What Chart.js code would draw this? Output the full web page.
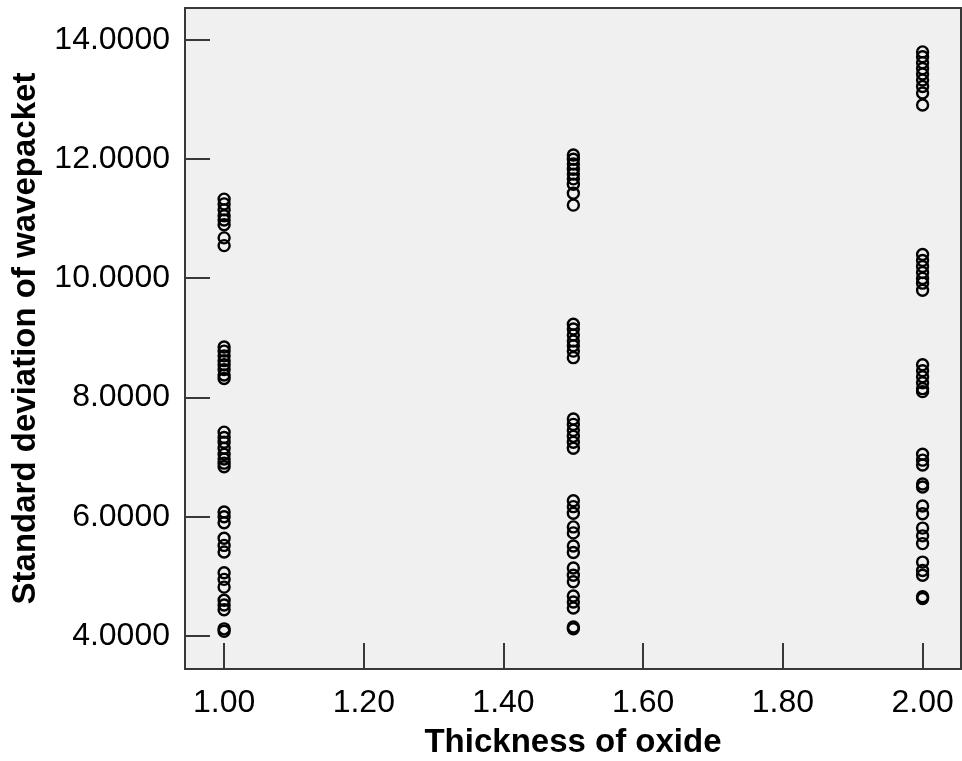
<!DOCTYPE html>
<html>
<head>
<meta charset="utf-8">
<script src="https://cdn.jsdelivr.net/npm/chart.js@4.4.1/dist/chart.umd.min.js"></script>
<style>
  html, body { margin: 0; padding: 0; background: #ffffff; }
  #wrap { width: 962px; height: 761px; }
</style>
</head>
<body>
<div id="wrap"><canvas id="chart" width="962" height="761"></canvas></div>
<script>
'use strict';
// thickness groups and the standard deviation read for each
var thickness = [1.00, 1.50, 2.00];
var sdThin = [
  11.33, 11.25, 11.15, 11.05, 10.98, 10.90, 10.68, 10.55,
  8.85, 8.78, 8.70, 8.62, 8.55, 8.47, 8.38, 8.32,
  7.42, 7.33, 7.25, 7.15, 7.05, 6.97, 6.90, 6.84,
  6.08, 6.00, 5.90,
  5.64, 5.52, 5.41,
  5.06, 4.95, 4.82,
  4.60, 4.52, 4.44,
  4.12, 4.08
];
var sdMid = [
  12.07, 12.00, 11.92, 11.83, 11.75, 11.67, 11.58, 11.43, 11.23,
  9.23, 9.15, 9.05, 8.95, 8.87, 8.78, 8.67,
  7.64, 7.55, 7.45, 7.35, 7.25, 7.15,
  6.27, 6.17, 6.06,
  5.83, 5.73,
  5.51, 5.40,
  5.14, 5.02, 4.91,
  4.67, 4.57, 4.47,
  4.15, 4.12
];
var sdThick = [
  13.80, 13.72, 13.62, 13.52, 13.43, 13.33, 13.22, 13.11, 12.91,
  10.40, 10.30, 10.20, 10.10, 10.00, 9.92, 9.80,
  8.55, 8.45, 8.35, 8.25, 8.15, 8.10,
  7.05, 6.95, 6.87,
  6.55, 6.50,
  6.18, 6.05,
  5.81, 5.68, 5.55,
  5.24, 5.10, 5.02,
  4.66, 4.63
];
var xTickValues = [1.0, 1.2, 1.4, 1.6, 1.8, 2.0];
var yTickValues = [4, 6, 8, 10, 12, 14];

var groups = [sdThin, sdMid, sdThick];
var points = [];
for (var g = 0; g < groups.length; g++) {
  for (var i = 0; i < groups[g].length; i++) {
    points.push({ x: thickness[g], y: groups[g][i] });
  }
}

var FONT = "'Liberation Sans', Arial, sans-serif";

// grey plot area, box round it and ticks pointing inwards
var framePlugin = {
  id: 'frame',
  beforeDraw: function (chart) {
    var a = chart.chartArea, ctx = chart.ctx;
    ctx.save();
    ctx.fillStyle = '#f0f0f0';
    ctx.fillRect(a.left, a.top, a.right - a.left, a.bottom - a.top);
    ctx.restore();
  },
  afterDraw: function (chart) {
    var a = chart.chartArea, ctx = chart.ctx;
    var xs = chart.scales.x, ys = chart.scales.y;
    ctx.save();
    ctx.strokeStyle = '#383838';
    ctx.lineWidth = 2;
    ctx.beginPath();
    xTickValues.forEach(function (v) {
      var px = Math.round(xs.getPixelForValue(v));
      ctx.moveTo(px, a.bottom);
      ctx.lineTo(px, a.bottom - 26);
    });
    yTickValues.forEach(function (v) {
      var py = Math.round(ys.getPixelForValue(v));
      ctx.moveTo(a.left, py);
      ctx.lineTo(a.left + 25, py);
    });
    ctx.stroke();
    ctx.strokeRect(a.left, a.top, a.right - a.left, a.bottom - a.top);
    ctx.restore();
  }
};

function noOverhang(scale) {
  scale.paddingLeft = 0;
  scale.paddingRight = 0;
  scale.paddingTop = 0;
  scale.paddingBottom = 0;
}

new Chart(document.getElementById('chart'), {
  type: 'scatter',
  data: {
    datasets: [{
      data: points,
      pointStyle: 'circle',
      pointRadius: 5.5,
      pointBorderWidth: 2.4,
      borderColor: '#000000',
      backgroundColor: 'rgba(0,0,0,0)',
      pointHoverRadius: 5.5
    }]
  },
  options: {
    responsive: false,
    animation: false,
    layout: { autoPadding: false, padding: { top: 8, right: 1, left: 0, bottom: 0 } },
    plugins: { legend: { display: false }, tooltip: { enabled: false } },
    scales: {
      x: {
        type: 'linear',
        min: 0.944,
        max: 2.055,
        grid: { display: false },
        border: { display: false },
        afterBuildTicks: function (scale) {
          scale.ticks = xTickValues.map(function (v) { return { value: v }; });
        },
        afterFit: function (scale) { scale.height = 92; noOverhang(scale); },
        ticks: {
          color: '#000000',
          padding: 7,
          maxRotation: 0,
          font: { family: FONT, size: 32 },
          callback: function (v) { return Number(v).toFixed(2); }
        },
        title: {
          display: true,
          text: 'Thickness of oxide',
          color: '#000000',
          padding: { top: 0, bottom: 0 },
          font: { family: FONT, size: 33, weight: 'bold', lineHeight: 1.1 }
        }
      },
      y: {
        type: 'linear',
        min: 3.446,
        max: 14.537,
        grid: { display: false },
        border: { display: false },
        afterBuildTicks: function (scale) {
          scale.ticks = yTickValues.map(function (v) { return { value: v }; });
        },
        afterFit: function (scale) { scale.width = 185; noOverhang(scale); },
        ticks: {
          color: '#000000',
          padding: 7,
          font: { family: FONT, size: 32 },
          callback: function (v) { return Number(v).toFixed(4); }
        },
        title: {
          display: true,
          text: 'Standard deviation of wavepacket',
          color: '#000000',
          padding: { top: 6, bottom: 0 },
          font: { family: FONT, size: 33, weight: 'bold', lineHeight: 1.2 }
        }
      }
    }
  },
  plugins: [framePlugin]
});
</script>
</body>
</html>
